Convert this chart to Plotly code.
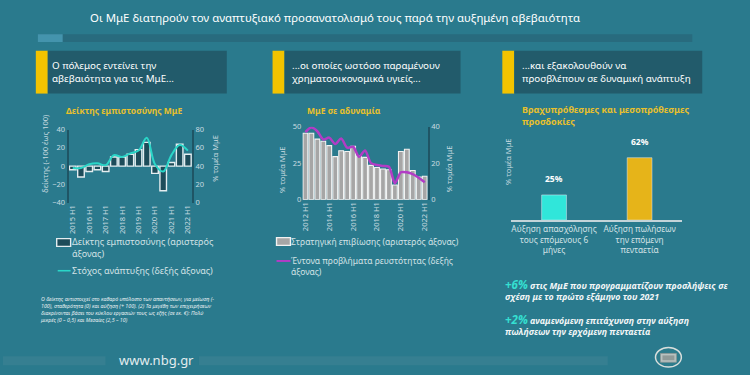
import plotly.graph_objects as go

W, H = 750, 375
def X(p): return p / W
def Y(p): return 1 - p / H

# ---------------- data ----------------
conf_periods = ["2015 H1", "2015 H2", "2016 H1", "2016 H2", "2017 H1", "2017 H2",
                "2018 H1", "2018 H2", "2019 H1", "2019 H2", "2020 H1", "2020 H2",
                "2021 H1", "2021 H2", "2022 H1"]
conf_index = [-4, -12, -6, -4, -6, 10, 10, 13, 18, 26, -8, -27, 4, 24, 13]
growth_target = [38, 38, 42, 43, 41, 52, 50, 54, 57, 71, 42, 34, 52, 63, 57]
conf_ticks = ["2015 H1", "2016 H1", "2017 H1", "2018 H1", "2019 H1", "2020 H1", "2021 H1", "2022 H1"]

weak_periods = ["2012 H1", "2012 H2", "2013 H1", "2013 H2", "2014 H1", "2014 H2",
                "2015 H1", "2015 H2", "2016 H1", "2016 H2", "2017 H1", "2017 H2",
                "2018 H1", "2018 H2", "2019 H1", "2019 H2", "2020 H1", "2020 H2",
                "2021 H1", "2021 H2", "2022 H1"]
survival_strategy = [45.5, 45.5, 41.5, 40, 37, 29.5, 33.5, 33, 36.5, 30, 29,
                     23.5, 22, 21, 20.5, 10, 33, 34.5, 20, 15.5, 16]
liquidity_problems = [37, 39.5, 37.5, 33, 34, 30.5, 33.5, 28.5, 29, 23.5, 27,
                      20, 19, 18.5, 18, 9, 15, 15, 14, 12, 9.5]
weak_ticks = ["2012 H1", "2014 H1", "2016 H1", "2018 H1", "2020 H1", "2022 H1"]

expect_cats = ["Αύξηση απασχόλησης τους επόμενους 6 μήνες",
               "Αύξηση πωλήσεων την επόμενη πενταετία"]
expect_labels = ["Αύξηση απασχόλησης<br>τους επόμενους 6<br>μήνες",
                 "Αύξηση πωλήσεων<br>την επόμενη<br>πενταετία"]
expect_vals = [25, 62]

# ---------------- styles ----------------
FONT = "Noto Sans"
BG = "#2a7a8d"
DARKBOX = "#225b6b"
YELLOW = "#f3c300"
GOLDTXT = "#e8c02c"
LIGHT = "#d3e2e6"
TICK = "#c9dbe0"
CYAN = "#2ad6c8"
CYAN3 = "#30e6da"
GOLD3 = "#e6b419"
MAGENTA = "#b23cc6"
DARKBAR = "#1d4c5a"
AXLINE = "#1f5565"

fig = go.Figure()

# chart 1
fig.add_trace(go.Bar(x=conf_periods, y=conf_index, xaxis="x", yaxis="y", width=0.8,
                     marker=dict(color=DARKBAR, line=dict(color="#e4edf0", width=1.4)),
                     showlegend=False))
fig.add_trace(go.Scatter(x=conf_periods, y=growth_target, xaxis="x", yaxis="y2", mode="lines",
                         line=dict(color=CYAN, width=2, shape="spline"), showlegend=False))
# chart 2
fig.add_trace(go.Bar(x=weak_periods, y=survival_strategy, xaxis="x2", yaxis="y3", width=0.8,
                     marker=dict(color="#a6a6a6", line=dict(color="#f2f2f2", width=1.1)),
                     showlegend=False))
fig.add_trace(go.Scatter(x=weak_periods, y=liquidity_problems, xaxis="x2", yaxis="y4", mode="lines",
                         line=dict(color=MAGENTA, width=2.5, shape="spline", smoothing=0.8),
                         showlegend=False))
# chart 3
fig.add_trace(go.Bar(x=expect_cats, y=expect_vals, xaxis="x3", yaxis="y5", width=0.29,
                     marker=dict(color=[CYAN3, GOLD3]), showlegend=False))

tickfont = dict(family=FONT, size=7.5, color=TICK)

fig.update_layout(
    width=W, height=H, margin=dict(l=0, r=0, t=0, b=0),
    paper_bgcolor=BG, plot_bgcolor="rgba(0,0,0,0)",
    font=dict(family=FONT, color=LIGHT),
    xaxis=dict(domain=[X(66), X(190)], type="category", tickvals=conf_ticks, tickangle=-90,
               tickfont=tickfont, showgrid=False, zeroline=False, ticks="", anchor="y"),
    yaxis=dict(domain=[Y(203), Y(128)], range=[-40, 40], tickvals=[-40, -20, 0, 20, 40],
               tickfont=tickfont, showgrid=False, zeroline=False, showline=True,
               linecolor=AXLINE, linewidth=2, anchor="x"),
    yaxis2=dict(overlaying="y", side="right", anchor="x", range=[0, 80],
                tickvals=[0, 20, 40, 60, 80], tickfont=tickfont, showgrid=False,
                zeroline=False, showline=True, linecolor=AXLINE, linewidth=2),
    xaxis2=dict(domain=[X(301), X(427)], type="category", tickvals=weak_ticks, tickangle=-90,
                tickfont=tickfont, showgrid=False, zeroline=False, ticks="", anchor="y3"),
    yaxis3=dict(domain=[Y(200), Y(125)], range=[0, 50], tickvals=[0, 25, 50],
                tickfont=tickfont, showgrid=False, zeroline=False, showline=False, anchor="x2"),
    yaxis4=dict(overlaying="y3", side="right", anchor="x2", range=[0, 40],
                tickvals=[0, 20, 40], tickfont=tickfont, showgrid=False,
                zeroline=False, showline=True, linecolor=AXLINE, linewidth=2),
    xaxis3=dict(domain=[X(511), X(683)], type="category", range=[-0.5, 1.5],
                tickvals=expect_cats, ticktext=expect_labels, tickangle=0,
                tickfont=dict(family=FONT, size=8.3, color=LIGHT), showgrid=False,
                zeroline=False, showline=True, linecolor="#c3d4d9", linewidth=1.5,
                ticks="", anchor="y5"),
    yaxis5=dict(domain=[Y(221), Y(130)], range=[0, 88], showticklabels=False,
                showgrid=False, zeroline=False, showline=False, anchor="x3"),
)

shapes = []
def rect(x0, y0, x1, y1, color, line=None, layer="below", kind="rect"):
    d = dict(type=kind, xref="paper", yref="paper", x0=X(x0), x1=X(x1), y0=Y(y1), y1=Y(y0),
             fillcolor=color, line=line or dict(width=0), layer=layer)
    shapes.append(d)

# top strip
rect(35, 30, 693, 38, "#286b7e")
rect(35, 30, 60, 38, "#4494ad")
# header boxes
for yx0, bx1 in [(33, 225), (271, 460), (502, 703)]:
    rect(yx0, 47, yx0 + 12, 91, YELLOW)
    rect(yx0 + 12, 47, bx1, 91, DARKBOX)
# legend symbols
rect(54, 240, 68, 248, DARKBAR, line=dict(color="#e4edf0", width=1.4))
rect(55, 272.2, 68, 273.8, CYAN)
rect(275, 239, 289, 247, "#a6a6a6", line=dict(color="#f2f2f2", width=1.4))
rect(275, 262, 289, 264, MAGENTA)
# footer bars
rect(0, 361, 103, 370, "#367f91")
rect(197, 361, 608, 370, "#367f91")
# logo
rect(656, 352, 682, 372, "#2d7c8c", line=dict(color="#d8dedc", width=1.5), kind="circle")
rect(661, 358, 677, 367, "#b9c2c0", line=dict(color="#8d9896", width=0.8))
rect(663, 360, 675, 365, "#8f9a98")
fig.update_layout(shapes=shapes)

ann = []
def text(x, y, s, size, color=LIGHT, xanchor="left", yanchor="middle", bold=False,
         italic=False, angle=0, align="left", family=FONT):
    t = s
    if bold:
        t = "<b>" + t + "</b>"
    if italic:
        t = "<i>" + t + "</i>"
    ann.append(dict(x=X(x), y=Y(y), xref="paper", yref="paper", text=t, showarrow=False,
                    xanchor=xanchor, yanchor=yanchor, textangle=angle, align=align,
                    font=dict(family=family, size=size, color=color)))

text(85, 13, "Οι ΜμΕ διατηρούν τον αναπτυξιακό προσανατολισμό τους παρά την αυξημένη αβεβαιότητα",
     11.4, color="#ffffff")
# headers
text(47, 69, "Ο πόλεμος εντείνει την<br>αβεβαιότητα για τις ΜμΕ...", 9.8, color="#ffffff")
text(289, 69, "...οι οποίες ωστόσο παραμένουν<br>χρηματοοικονομικά υγιείς...", 9.8, color="#ffffff")
text(520, 69, "...και εξακολουθούν να<br>προσβλέπουν σε δυναμική ανάπτυξη", 9.8, color="#ffffff")
# subtitles
text(122, 108, "Δείκτης εμπιστοσύνης ΜμΕ", 8.5, color=GOLDTXT, xanchor="center", bold=True)
text(343, 108, "ΜμΕ σε αδυναμία", 8.5, color=GOLDTXT, xanchor="center", bold=True)
text(520, 114, "Βραχυπρόθεσμες και μεσοπρόθεσμες<br>προσδοκίες", 9, color=GOLDTXT, bold=True)
# axis titles
text(42, 153, "δείκτης (-100 έως 100)", 7.5, color=TICK, xanchor="center", angle=-90)
text(213, 157, "% τομέα ΜμΕ", 7.5, color=TICK, xanchor="center", angle=-90)
text(281, 169, "% τομέα ΜμΕ", 7.5, color=TICK, xanchor="center", angle=-90)
text(448, 168, "% τομέα ΜμΕ", 7.5, color=TICK, xanchor="center", angle=-90)
text(507, 161, "% τομέα ΜμΕ", 7.5, color=TICK, xanchor="center", angle=-90)
# legends
text(67, 249.5, "Δείκτης εμπιστοσύνης (αριστερός<br>άξονας)", 9)
text(67, 273, "Στόχος ανάπτυξης (δεξής άξονας)", 9)
text(288, 243, "Στρατηγική επιβίωσης (αριστερός άξονας)", 8.5)
text(288, 268.5, "Έντονα προβλήματα ρευστότητας (δεξής<br>άξονας)", 8.5)
# footnote
text(35, 312.5,
     "Ο δείκτης αντιστοιχεί στο καθαρό υπόλοιπο των απαντήσεων, για μείωση (-<br>"
     "100), σταθερότητα (0) και αύξηση (+ 100). (2) Τα μεγέθη των επιχειρήσεων<br>"
     "διακρίνονται βάσει του κύκλου εργασιών τους ως εξής (σε εκ. €): Πολύ<br>"
     "μικρές (0 – 0,5) και Μεσαίες (2,5 – 10)", 5.3, color="#e6eef0", italic=True)
# footer
text(154, 365, "www.nbg.gr", 13, color="#e3ecef", xanchor="center")
# chart 3 notes
text(503, 293,
     "<span style='font-size:11.5px;color:#35e0d2'>+6%</span> στις ΜμΕ που προγραμματίζουν προσλήψεις σε<br>"
     "σχέση με το πρώτο εξάμηνο του 2021", 8.8, color="#f2f6f7", bold=True, italic=True)
text(503, 329,
     "<span style='font-size:11.5px;color:#35e0d2'>+2%</span> αναμενόμενη επιτάχυνση στην αύξηση<br>"
     "πωλήσεων την ερχόμενη πενταετία", 8.8, color="#f2f6f7", bold=True, italic=True)

# value labels for chart 3
for c, v in zip(expect_cats, expect_vals):
    ann.append(dict(x=c, y=v, xref="x3", yref="y5", text=f"<b>{v}%</b>", showarrow=False,
                    yshift=16, font=dict(family=FONT, size=8.5, color="#ffffff")))

fig.update_layout(annotations=ann)
fig.write_html("out.html", config={"displayModeBar": False},
               post_script="document.body.style.margin='0';document.body.style.overflow='hidden';")
